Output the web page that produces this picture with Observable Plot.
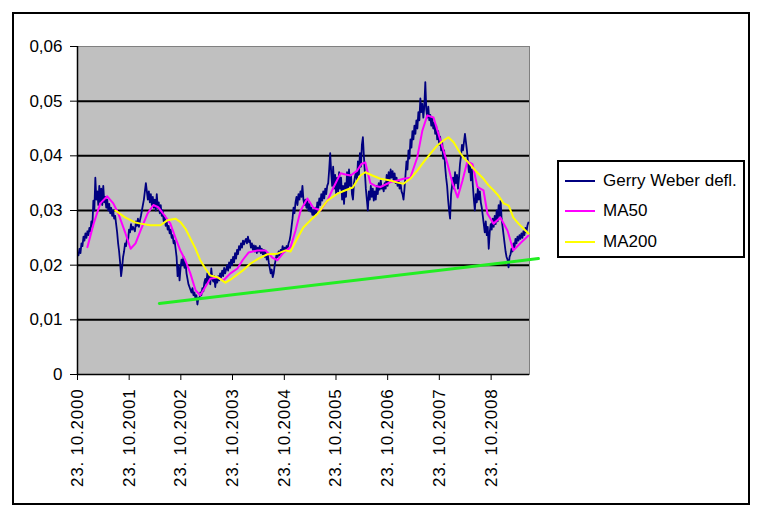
<!DOCTYPE html>
<html><head><meta charset="utf-8">
<script src="https://cdn.jsdelivr.net/npm/d3@7"></script>
<script src="https://cdn.jsdelivr.net/npm/@observablehq/plot@0.6"></script>
<style>
html,body{margin:0;padding:0;background:#fff;}
#wrap{position:relative;width:770px;height:526px;overflow:hidden;font-family:"Liberation Sans",Arial,sans-serif;color:#000;}
#wrap svg{position:absolute;left:0;top:0;}
#outer{position:absolute;left:12px;top:12px;width:738px;height:493px;border:2px solid #000;box-sizing:border-box;}
#legend{position:absolute;left:557px;top:160px;width:188px;height:98px;border:2px solid #000;box-sizing:border-box;background:#fff;}
.lg-line{position:absolute;left:565px;width:30px;height:2px;}
.lg-text{position:absolute;left:603px;height:20px;line-height:20px;font-size:17px;white-space:nowrap;}
g[aria-label="x-axis tick label"] text{letter-spacing:0.8px;}
</style>
</head><body>
<div id="wrap">
  <div id="outer"></div>
</div>
<script>
// Gerry Weber deflated – weekly observations starting 30.10.2000
const gwValues = [
.0218,.0230,.0222,.0240,.0235,.0252,.0245,.0258,.0250,.0262,
.0255,.0268,.0262,.0280,.0270,.0318,.0300,.0360,.0320,.0335,
.0310,.0345,.0315,.0340,.0310,.0345,.0315,.0325,.0305,.0320,
.0300,.0312,.0295,.0305,.0290,.0300,.0285,.0290,.0275,.0260,
.0240,.0225,.0205,.0180,.0195,.0215,.0225,.0240,.0235,.0250,
.0245,.0265,.0260,.0275,.0265,.0270,.0266,.0262,.0280,.0272,
.0285,.0270,.0282,.0290,.0300,.0310,.0320,.0335,.0350,.0335,
.0320,.0335,.0315,.0330,.0310,.0325,.0305,.0320,.0300,.0330,
.0305,.0315,.0295,.0310,.0290,.0300,.0280,.0290,.0272,.0280,
.0265,.0272,.0258,.0265,.0250,.0255,.0240,.0245,.0230,.0215,
.0180,.0200,.0172,.0195,.0210,.0200,.0215,.0195,.0205,.0185,
.0175,.0165,.0160,.0155,.0150,.0158,.0145,.0150,.0140,.0145,
.0128,.0140,.0138,.0150,.0145,.0158,.0152,.0168,.0175,.0165,
.0185,.0170,.0180,.0165,.0194,.0175,.0170,.0180,.0160,.0175,
.0168,.0180,.0172,.0185,.0178,.0190,.0180,.0195,.0185,.0192,
.0200,.0190,.0205,.0195,.0210,.0200,.0215,.0205,.0222,.0212,
.0228,.0220,.0235,.0228,.0240,.0232,.0245,.0238,.0244,.0248,
.0240,.0252,.0242,.0245,.0232,.0240,.0228,.0236,.0225,.0235,
.0222,.0232,.0225,.0235,.0222,.0230,.0220,.0228,.0215,.0225,
.0210,.0220,.0205,.0195,.0185,.0192,.0178,.0185,.0200,.0210,
.0220,.0215,.0225,.0218,.0228,.0222,.0235,.0225,.0232,.0228,
.0235,.0230,.0240,.0245,.0255,.0270,.0285,.0305,.0295,.0315,
.0325,.0310,.0330,.0320,.0335,.0325,.0345,.0320,.0310,.0320,
.0305,.0318,.0300,.0312,.0298,.0305,.0292,.0300,.0290,.0305,
.0295,.0315,.0305,.0322,.0310,.0330,.0318,.0335,.0322,.0340,
.0330,.0345,.0350,.0375,.0405,.0370,.0345,.0380,.0340,.0365,
.0330,.0360,.0335,.0370,.0340,.0360,.0320,.0345,.0312,.0350,
.0325,.0370,.0340,.0375,.0345,.0365,.0330,.0320,.0350,.0362,
.0370,.0355,.0390,.0365,.0405,.0380,.0420,.0434,.0400,.0370,
.0340,.0320,.0300,.0335,.0320,.0345,.0325,.0340,.0318,.0335,
.0320,.0345,.0330,.0350,.0338,.0355,.0340,.0345,.0335,.0350,
.0340,.0365,.0345,.0370,.0355,.0375,.0360,.0372,.0355,.0368,
.0350,.0360,.0345,.0355,.0340,.0350,.0335,.0330,.0320,.0340,
.0365,.0390,.0375,.0410,.0395,.0430,.0415,.0445,.0430,.0455,
.0440,.0465,.0450,.0480,.0465,.0505,.0480,.0495,.0470,.0490,
.0535,.0485,.0470,.0490,.0465,.0475,.0455,.0470,.0450,.0460,
.0440,.0455,.0430,.0445,.0420,.0435,.0410,.0425,.0395,.0410,
.0380,.0360,.0345,.0320,.0300,.0285,.0330,.0345,.0360,.0340,
.0370,.0350,.0365,.0340,.0360,.0385,.0400,.0420,.0410,.0425,
.0440,.0425,.0410,.0390,.0370,.0385,.0355,.0375,.0345,.0320,
.0300,.0330,.0315,.0340,.0320,.0335,.0315,.0305,.0290,.0275,
.0260,.0280,.0255,.0270,.0230,.0260,.0275,.0265,.0285,.0270,
.0290,.0275,.0300,.0280,.0310,.0290,.0318,.0285,.0270,.0255,
.0240,.0225,.0215,.0210,.0196,.0215,.0220,.0230,.0225,.0240,
.0232,.0248,.0240,.0252,.0245,.0255,.0248,.0258,.0250,.0262,
.0255,.0268,.0260,.0272,.0278
];
const gwFirstWeek = "2000-10-30";

const ma50 = [
["2001-01-01",.0233],["2001-02-14",.0276],["2001-04-02",.0313],["2001-05-21",.0326],["2001-07-03",.0313],
["2001-08-08",.0294],["2001-09-27",.0258],["2001-11-02",.0230],["2001-12-07",.0240],["2002-01-11",.0263],
["2002-03-01",.0294],["2002-04-12",.0310],["2002-05-16",.0306],["2002-06-21",.0294],["2002-08-10",.0276],
["2002-09-15",.0250],["2002-10-19",.0227],["2002-11-24",.0209],["2002-12-29",.0185],["2003-02-04",.0154],
["2003-03-09",.0145],["2003-04-14",.0160],["2003-05-19",.0175],["2003-07-08",.0178],["2003-08-19",.0172],
["2003-10-08",.0185],["2003-11-27",.0194],["2004-01-02",.0209],["2004-02-13",.0223],["2004-04-16",.0227],
["2004-06-12",.0227],["2004-07-30",.0214],["2004-09-05",.0209],["2004-10-17",.0223],["2004-12-06",.0233],
["2005-01-10",.0263],["2005-02-15",.0300],["2005-04-04",.0322],["2005-05-16",.0305],["2005-07-05",.0300],
["2005-08-23",.0318],["2005-10-05",.0342],["2005-11-24",.0368],["2005-12-29",.0366],["2006-02-03",.0364],
["2006-03-22",.0373],["2006-04-20",.0385],["2006-05-18",.0388],["2006-06-23",.0350],["2006-07-28",.0345],
["2006-09-02",.0343],["2006-11-12",.0352],["2007-01-01",.0355],["2007-02-12",.0358],["2007-04-01",.0360],
["2007-05-20",.0397],["2007-06-25",.0446],["2007-07-30",.0474],["2007-09-12",.0470],["2007-10-31",.0428],
["2007-12-19",.0386],["2008-01-24",.0350],["2008-02-29",.0324],["2008-04-03",.0354],["2008-05-08",.0390],
["2008-06-13",.0385],["2008-07-18",.0343],["2008-08-30",.0337],["2008-09-27",.0294],["2008-11-09",.0276],
["2008-12-28",.0287],["2009-02-16",.0263],["2009-03-29",.0227],["2009-05-17",.0240],["2009-07-13",.0254]
];

const ma200 = [
["2001-07-17",.0300],["2001-09-27",.0287],["2001-12-07",.0278],["2002-01-11",.0276],["2002-03-21",.0273],
["2002-06-01",.0273],["2002-07-19",.0282],["2002-09-15",.0285],["2002-10-19",.0279],["2002-11-24",.0267],
["2002-12-29",.0249],["2003-02-04",.0230],["2003-03-09",.0209],["2003-04-14",.0194],["2003-05-19",.0181],
["2003-07-08",.0178],["2003-09-03",.0168],["2003-10-22",.0176],["2004-01-02",.0190],["2004-02-27",.0203],
["2004-04-23",.0212],["2004-06-26",.0220],["2004-09-05",.0221],["2004-11-01",.0227],["2004-12-06",.0225],
["2005-01-25",.0250],["2005-03-06",.0269],["2005-04-25",.0282],["2005-06-14",.0294],["2005-08-23",.0318],
["2005-11-03",.0331],["2005-12-29",.0337],["2006-02-18",.0342],["2006-04-13",.0364],["2006-05-18",.0370],
["2006-07-07",.0364],["2006-09-02",.0358],["2006-11-12",.0355],["2007-01-01",.0351],["2007-02-12",.0349],
["2007-04-01",.0358],["2007-05-20",.0373],["2007-07-02",.0388],["2007-08-21",.0404],["2007-10-09",.0419],
["2007-11-21",.0428],["2007-12-26",.0434],["2008-02-01",.0425],["2008-03-06",.0410],["2008-04-10",.0397],
["2008-05-15",.0388],["2008-07-04",.0373],["2008-08-23",.0360],["2008-10-05",.0346],["2008-11-09",.0337],
["2008-12-14",.0327],["2009-01-19",.0313],["2009-02-24",.0309],["2009-03-29",.0287],["2009-05-04",.0276],
["2009-06-08",.0267],["2009-07-13",.0258]
];

const trendLine = [["2002-05-24",.0130],["2009-09-22",.0212]];

const yTicks = [0,.01,.02,.03,.04,.05,.06];
const gridLines = [.01,.02,.03,.04,.05];
const xTickYears = [2000,2001,2002,2003,2004,2005,2006,2007,2008];
const xDomain = ["2000-10-23","2009-07-21"];

const legendItems = [
  {label:"Gerry Weber defl.", color:"#000080", y:181},
  {label:"MA50", color:"#ff00ff", y:211},
  {label:"MA200", color:"#ffff00", y:242}
];

// build
const DAY = 864e5;
const start = new Date(gwFirstWeek).getTime();
const gw = gwValues.map((v,i)=>({date:new Date(start + i*7*DAY), v}));
const toRows = arr => arr.map(([d,v])=>({date:new Date(d), v}));
const xTicks = xTickYears.map(y=>new Date(Date.UTC(y,9,23)));

const chart = Plot.plot({
  width:770, height:526,
  marginLeft:77, marginRight:241, marginTop:46, marginBottom:152,
  style:{fontFamily:'"Liberation Sans", Arial, sans-serif', fontSize:"17px", color:"#000", background:"transparent", overflow:"visible"},
  x:{type:"utc", domain:xDomain.map(d=>new Date(d))},
  y:{domain:[0,.06]},
  marks:[
    Plot.frame({fill:"#c0c0c0", stroke:"#808080"}),
    Plot.ruleY(gridLines, {stroke:"#000", strokeWidth:2}),
    Plot.line(gw, {x:"date", y:"v", stroke:"#000080", strokeWidth:1.8}),
    Plot.line(toRows(ma50), {x:"date", y:"v", stroke:"#ff00ff", strokeWidth:2}),
    Plot.line(toRows(ma200), {x:"date", y:"v", stroke:"#ffff00", strokeWidth:2}),
    Plot.line(toRows(trendLine), {x:"date", y:"v", stroke:"#22ee22", strokeWidth:3}),
    Plot.ruleX([new Date(xDomain[0])], {stroke:"#000", strokeWidth:1.5}),
    Plot.ruleY([0], {stroke:"#000", strokeWidth:1.5}),
    Plot.axisY({ticks:yTicks, tickSize:7, tickPadding:8, label:null,
      tickFormat:d=> d===0 ? "0" : d.toFixed(2).replace(".", ",")}),
    Plot.axisX({ticks:xTicks, tickSize:6, tickPadding:8, tickRotate:-90, label:null,
      tickFormat:d=>"23. 10." + d.getUTCFullYear()})
  ]
});

const wrap = document.getElementById("wrap");
wrap.insertBefore(chart, wrap.firstChild);

const lg = document.createElement("div");
lg.id = "legend";
wrap.appendChild(lg);
legendItems.forEach(it=>{
  const l = document.createElement("div");
  l.className = "lg-line";
  l.style.top = (it.y - 1) + "px";
  l.style.background = it.color;
  wrap.appendChild(l);
  const t = document.createElement("div");
  t.className = "lg-text";
  t.style.top = (it.y - 10) + "px";
  t.textContent = it.label;
  wrap.appendChild(t);
});
</script>
</body></html>
